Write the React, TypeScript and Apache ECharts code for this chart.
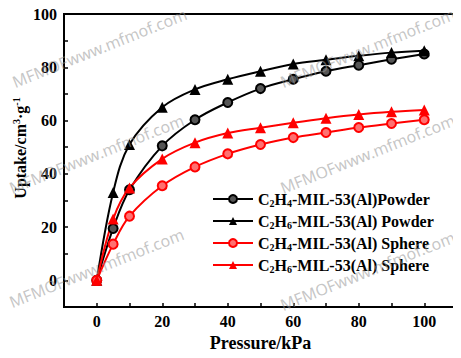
import React, { useEffect, useRef } from "react";
import * as echarts from "echarts";

const pressure = [0, 5, 10, 20, 30, 40, 50, 60, 70, 80, 90, 100];
const c2h4Powder = [0, 19.5, 34, 50.5, 60.3, 66.8, 72, 75.5, 78.5, 80.8, 83, 85];
const c2h6Powder = [0, 33, 51, 65, 71.7, 75.5, 78.5, 81.2, 82.8, 84.3, 85.5, 86.2];
const c2h4Sphere = [0, 13.6, 24.1, 35.5, 42.6, 47.5, 51, 53.6, 55.5, 57.4, 58.9, 60.3];
const c2h6Sphere = [0, 23, 34.7, 45.6, 51.7, 55.3, 57.3, 59.2, 60.9, 62.3, 63.3, 64];

const seriesNames = [
  "C2H4-MIL-53(Al)Powder",
  "C2H6-MIL-53(Al) Powder",
  "C2H4-MIL-53(Al) Sphere",
  "C2H6-MIL-53(Al) Sphere",
];
const legendRich = [
  "{a|C}{s|2}{a|H}{s|4}{a|-MIL-53(Al)Powder}",
  "{a|C}{s|2}{a|H}{s|6}{a|-MIL-53(Al) Powder}",
  "{a|C}{s|2}{a|H}{s|4}{a|-MIL-53(Al) Sphere}",
  "{a|C}{s|2}{a|H}{s|6}{a|-MIL-53(Al) Sphere}",
];

const xTickLabels = [0, 20, 40, 60, 80, 100];
const yTickLabels = [0, 20, 40, 60, 80, 100];

const watermarks = [
  [16, 90],
  [13, 196],
  [13, 310],
  [284, 90],
  [284, 196],
  [284, 313],
];

const SERIF = "'Liberation Serif', 'Times New Roman', serif";

export default function App() {
  const ref = useRef<HTMLDivElement>(null);
  useEffect(() => {
    if (!ref.current) return;
    const chart = echarts.init(ref.current, undefined, { renderer: "svg" });
    const mk = (
      name: string,
      data: number[],
      color: string,
      symbol: string,
      fill: string
    ) => ({
      name,
      type: "line",
      smooth: 0.35,
      data: pressure.map((p, i) => [p, data[i]]),
      symbol,
      symbolSize: symbol === "triangle" ? 11 : 9,
      showSymbol: true,
      lineStyle: { color, width: 2 },
      itemStyle: { color: fill, borderColor: color, borderWidth: symbol === "triangle" ? 0 : 2 },
      z: 3,
    });
    chart.setOption({
      animation: false,
      backgroundColor: "#fff",
      grid: {
        left: 64,
        right: 4,
        top: 14,
        bottom: 51,
        show: true,
        borderColor: "#000",
        borderWidth: 2,
        backgroundColor: "transparent",
      },
      legend: {
        orient: "vertical",
        left: 207,
        top: 186,
        itemWidth: 40,
        itemHeight: 10,
        itemGap: 5,
        data: seriesNames,
        formatter: (n: string) => legendRich[seriesNames.indexOf(n)],
        textStyle: {
          rich: {
            a: { fontFamily: SERIF, fontWeight: "bold", fontSize: 16, color: "#000" },
            s: {
              fontFamily: SERIF,
              fontWeight: "bold",
              fontSize: 10,
              color: "#000",
              padding: [8, 0, 0, 0],
            },
          },
        },
      },
      xAxis: {
        type: "value",
        min: -10,
        max: 110,
        interval: 10,
        name: "Pressure/kPa",
        nameLocation: "middle",
        nameGap: 17,
        nameTextStyle: { fontFamily: SERIF, fontWeight: "bold", fontSize: 18, color: "#000" },
        axisLine: { onZero: false, lineStyle: { color: "#000", width: 2 } },
        axisTick: { inside: true, length: 4, lineStyle: { color: "#000", width: 1.5 } },
        axisLabel: {
          margin: 6,
          fontFamily: SERIF,
          fontWeight: "bold",
          fontSize: 16,
          color: "#000",
          formatter: (v: number) => (xTickLabels.includes(v) ? String(v) : ""),
        },
        splitLine: { show: false },
      },
      yAxis: {
        type: "value",
        min: -10,
        max: 100,
        interval: 10,
        axisLine: { show: true, onZero: false, lineStyle: { color: "#000", width: 2 } },
        axisTick: { show: true, inside: true, length: 4, lineStyle: { color: "#000", width: 1.5 } },
        axisLabel: {
          margin: 7,
          fontFamily: SERIF,
          fontWeight: "bold",
          fontSize: 16,
          color: "#000",
          formatter: (v: number) => (yTickLabels.includes(v) ? String(v) : ""),
        },
        splitLine: { show: false },
      },
      graphic: [
        {
          type: "text",
          x: 20,
          y: 148,
          rotation: Math.PI / 2,
          style: {
            text: "{a|Uptake/cm}{s|3}{a|·g}{s|-1}",
            rich: {
              a: { fontFamily: SERIF, fontWeight: "bold", fontSize: 16, color: "#000" },
              s: { fontFamily: SERIF, fontWeight: "bold", fontSize: 10, color: "#000", padding: [0, 0, 7, 0] },
            },
            align: "center",
            verticalAlign: "middle",
          },
        },
        {
          type: "line",
          shape: { x1: 1, y1: 0, x2: 1, y2: 358 },
          style: { stroke: "#000", lineWidth: 1.5 },
        },
        ...watermarks.map(([x, y]) => ({
          type: "text",
          x,
          y,
          rotation: 0.38,
          z: 100,
          style: {
            text: "MFMOFwww.mfmof.com",
            fontFamily: "'Noto Sans', sans-serif",
            fontSize: 16,
            fill: "rgba(150,150,150,0.55)",
            verticalAlign: "bottom",
          },
        })),
      ],
      series: [
        mk(seriesNames[0], c2h4Powder, "#000", "circle", "#555"),
        mk(seriesNames[1], c2h6Powder, "#000", "triangle", "#000"),
        mk(seriesNames[2], c2h4Sphere, "#f00", "circle", "#ff7070"),
        mk(seriesNames[3], c2h6Sphere, "#f00", "triangle", "#f00"),
      ],
    });
    return () => chart.dispose();
  }, []);
  return <div ref={ref} style={{ width: 461, height: 358, margin: -8 }} />;
}
